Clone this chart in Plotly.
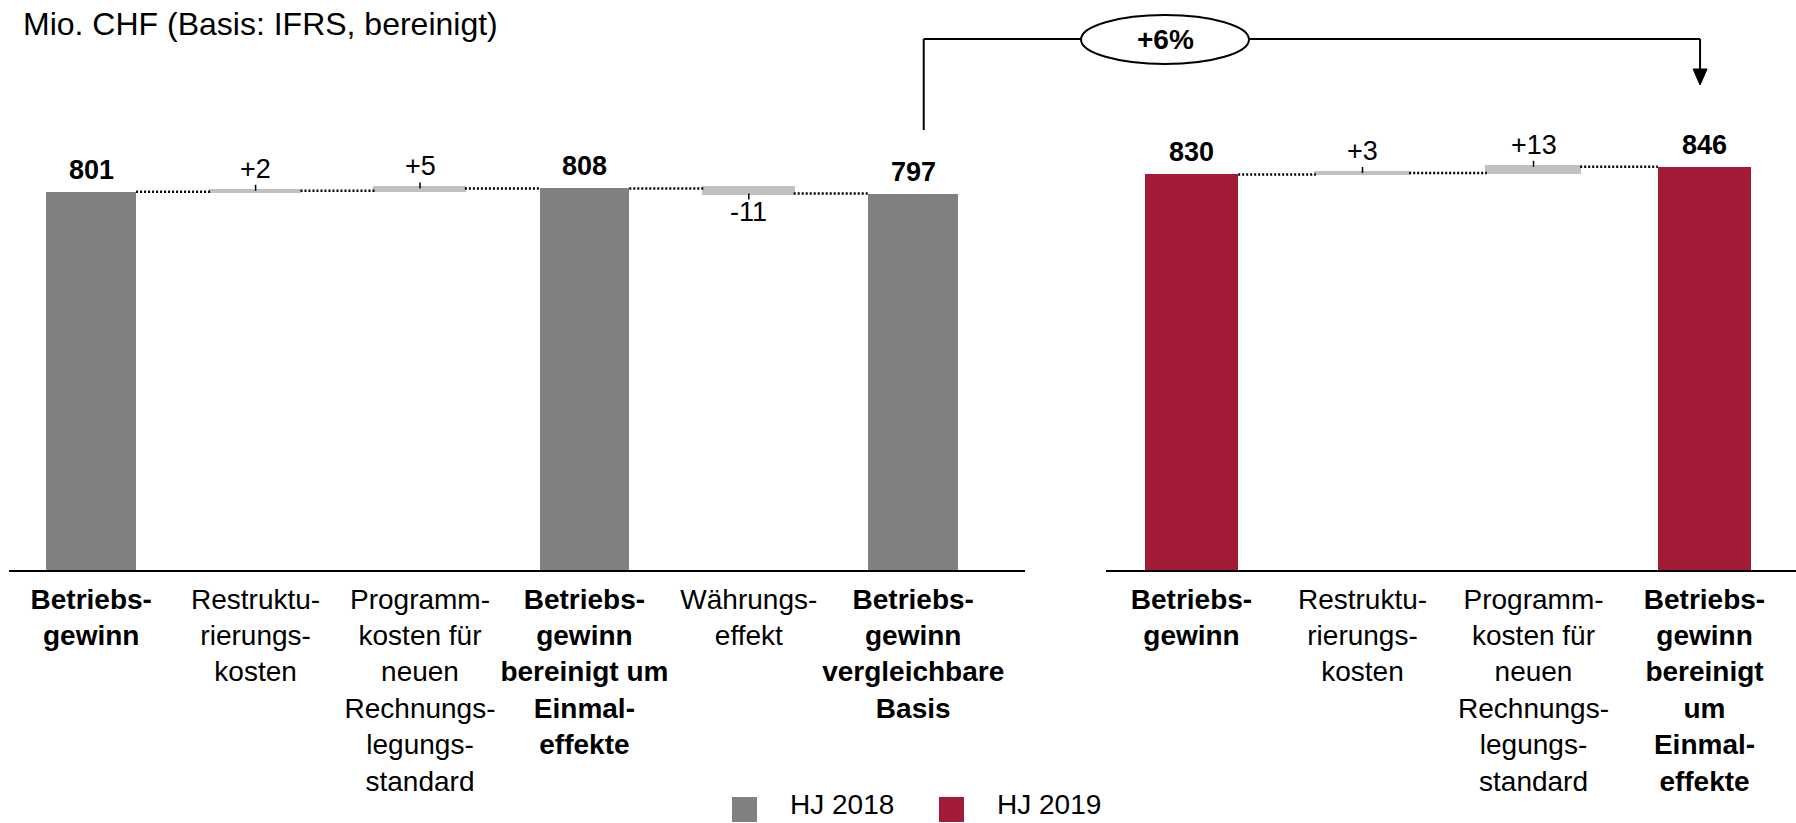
import plotly.graph_objects as go

# ---------------- data ----------------
title_text = "Mio. CHF (Basis: IFRS, bereinigt)"
series_names = ["HJ 2018", "HJ 2019"]
growth_text = "+6%"

left_labels = [
    ["Betriebs-", "gewinn"],
    ["Restruktu-", "rierungs-", "kosten"],
    ["Programm-", "kosten für", "neuen", "Rechnungs-", "legungs-", "standard"],
    ["Betriebs-", "gewinn", "bereinigt um", "Einmal-", "effekte"],
    ["Währungs-", "effekt"],
    ["Betriebs-", "gewinn", "vergleichbare", "Basis"],
]
left_kinds = ["total", "delta", "delta", "total", "delta", "total"]
left_values = [801, 2, 5, 808, -11, 797]

right_labels = [
    ["Betriebs-", "gewinn"],
    ["Restruktu-", "rierungs-", "kosten"],
    ["Programm-", "kosten für", "neuen", "Rechnungs-", "legungs-", "standard"],
    ["Betriebs-", "gewinn", "bereinigt", "um", "Einmal-", "effekte"],
]
right_kinds = ["total", "delta", "delta", "total"]
right_values = [830, 3, 13, 846]

# ---------------- styling / geometry ----------------
FONT = "Liberation Sans, Arial, sans-serif"
GRAY = "#808080"
RED = "#A21C38"
DELTA = "#C0C0C0"
W, H = 1796, 823
PLOT_BOTTOM = 570          # pixel row of the x axes (plot area spans 0..570)
MARGIN_B = H - PLOT_BOTTOM

left_dom = [9 / W, 1025 / W]
left_xrange = [-0.5, 5.68]
left_yrange = [0, 1207]
right_dom = [1106 / W, 1.0]
right_xrange = [-0.5, 3.535]
right_yrange = [0, 1196]
BAR_W = 0.546


def paper_x_px(px):
    return px / W


def paper_y_px(py):
    return (PLOT_BOTTOM - py) / PLOT_BOTTOM


def cat_to_paper(cat, dom, rng):
    frac = (cat - rng[0]) / (rng[1] - rng[0])
    return dom[0] + frac * (dom[1] - dom[0])


def tick_text(lines, kind):
    if kind == "total":
        return "<br>".join(f"<b>{ln}</b>" for ln in lines)
    return "<br>".join(lines)


fig = go.Figure()
annotations = []


def add_panel(values, kinds, color, xa, ya, yrange):
    tick_units = 6 * yrange[1] / PLOT_BOTTOM
    tot_x, tot_y = [], []
    d_x, d_base, d_y, e_plus, e_minus = [], [], [], [], []
    levels = []
    level = 0
    for i, (v, k) in enumerate(zip(values, kinds)):
        if k == "total":
            tot_x.append(i)
            tot_y.append(v)
            level = v
            annotations.append(dict(
                x=i, y=v, xref=xa, yref=ya, text=f"<b>{v}</b>", showarrow=False,
                yanchor="middle", yshift=22, font=dict(size=27, color="black", family=FONT)))
        else:
            d_x.append(i)
            d_base.append(level)
            d_y.append(v)
            e_plus.append(tick_units if v > 0 else 0)
            e_minus.append(tick_units if v < 0 else 0)
            end = level + v
            txt = f"+{v}" if v > 0 else f"{v}"
            annotations.append(dict(
                x=i, y=max(level, end), xref=xa, yref=ya, text=txt, showarrow=False,
                yanchor="middle", yshift=22 if v > 0 else -(18 + abs(v) * PLOT_BOTTOM / yrange[1]),
                font=dict(size=27, color="black", family=FONT)))
            level = end
        levels.append(level)

    xs, ys = [], []
    for i in range(len(values) - 1):
        xs += [i + BAR_W / 2, i + 1 - BAR_W / 2, None]
        ys += [levels[i], levels[i], None]
    fig.add_trace(go.Scatter(
        x=xs, y=ys, mode="lines", xaxis=xa, yaxis=ya, showlegend=False, hoverinfo="skip",
        line=dict(color="black", width=2.5, dash="2px,2px")))

    fig.add_trace(go.Bar(
        x=tot_x, y=tot_y, width=BAR_W, marker=dict(color=color, line=dict(width=0)),
        xaxis=xa, yaxis=ya, showlegend=False))
    fig.add_trace(go.Bar(
        x=d_x, y=d_y, base=d_base, width=BAR_W,
        marker=dict(color=DELTA, line=dict(color=DELTA, width=3)),
        error_y=dict(type="data", symmetric=False, array=e_plus, arrayminus=e_minus,
                     color="black", thickness=1.5, width=0),
        xaxis=xa, yaxis=ya, showlegend=False))


add_panel(left_values, left_kinds, GRAY, "x", "y", left_yrange)
add_panel(right_values, right_kinds, RED, "x2", "y2", right_yrange)

axis_common = dict(showgrid=False, zeroline=False, showline=True, linecolor="black",
                   linewidth=2, ticks="", tickangle=0, ticklabelstandoff=3,
                   tickfont=dict(size=28, color="black", family=FONT), fixedrange=True)

# ---------------- growth bracket ----------------
x_from = cat_to_paper(5 + 0.064, left_dom, left_xrange)
x_to = cat_to_paper(3 - 0.026, right_dom, right_xrange)
y_top = paper_y_px(39)
ell_x0, ell_x1 = paper_x_px(1081), paper_x_px(1249)
shapes = [
    dict(type="line", xref="paper", yref="paper", x0=x_from, x1=x_from,
         y0=paper_y_px(130), y1=y_top, line=dict(color="black", width=2)),
    dict(type="line", xref="paper", yref="paper", x0=x_from, x1=ell_x0,
         y0=y_top, y1=y_top, line=dict(color="black", width=2)),
    dict(type="line", xref="paper", yref="paper", x0=ell_x1, x1=x_to,
         y0=y_top, y1=y_top, line=dict(color="black", width=2)),
    dict(type="line", xref="paper", yref="paper", x0=x_to, x1=x_to,
         y0=y_top, y1=paper_y_px(70), line=dict(color="black", width=2)),
    dict(type="path", xref="paper", yref="paper",
         path=f"M {x_to - 7 / W},{paper_y_px(69)} L {x_to + 7 / W},{paper_y_px(69)} "
              f"L {x_to},{paper_y_px(85)} Z",
         fillcolor="black", line=dict(color="black", width=1)),
    dict(type="circle", xref="paper", yref="paper", x0=ell_x0, x1=ell_x1,
         y0=paper_y_px(15), y1=paper_y_px(64), fillcolor="white",
         line=dict(color="black", width=2)),
]
annotations.append(dict(
    x=(ell_x0 + ell_x1) / 2, y=paper_y_px(39.5), xref="paper", yref="paper",
    text=f"<b>{growth_text}</b>", showarrow=False, xanchor="center", yanchor="middle",
    font=dict(size=28, color="black", family=FONT)))

# ---------------- title ----------------
annotations.append(dict(
    x=paper_x_px(21), y=paper_y_px(24), xref="paper", yref="paper", text=title_text,
    showarrow=False, xanchor="left", yanchor="middle",
    font=dict(size=32, color="black", family=FONT)))

# ---------------- legend ----------------
legend_items = [(series_names[0], GRAY, 732), (series_names[1], RED, 939)]
for name, col, x0 in legend_items:
    shapes.append(dict(type="rect", xref="paper", yref="paper",
                       x0=paper_x_px(x0), x1=paper_x_px(x0 + 25),
                       y0=paper_y_px(797), y1=paper_y_px(822),
                       fillcolor=col, line=dict(width=0)))
    annotations.append(dict(
        x=paper_x_px(x0 + 56), y=paper_y_px(804), xref="paper", yref="paper", text=name,
        showarrow=False, xanchor="left", yanchor="middle",
        font=dict(size=28, color="black", family=FONT)))

fig.update_layout(
    width=W, height=H,
    margin=dict(l=0, r=0, t=0, b=MARGIN_B),
    paper_bgcolor="white", plot_bgcolor="white",
    showlegend=False, barmode="overlay", bargap=0,
    font=dict(family=FONT, color="black"),
    xaxis=dict(domain=left_dom, range=left_xrange, tickvals=list(range(len(left_labels))),
               ticktext=[tick_text(l, k) for l, k in zip(left_labels, left_kinds)],
               anchor="y", **axis_common),
    yaxis=dict(domain=[0, 1], range=left_yrange, visible=False, fixedrange=True, anchor="x"),
    xaxis2=dict(domain=right_dom, range=right_xrange, tickvals=list(range(len(right_labels))),
                ticktext=[tick_text(l, k) for l, k in zip(right_labels, right_kinds)],
                anchor="y2", **axis_common),
    yaxis2=dict(domain=[0, 1], range=right_yrange, visible=False, fixedrange=True, anchor="x2"),
    shapes=shapes,
    annotations=annotations,
)

fig.write_html("out.html", config={"displayModeBar": False})
